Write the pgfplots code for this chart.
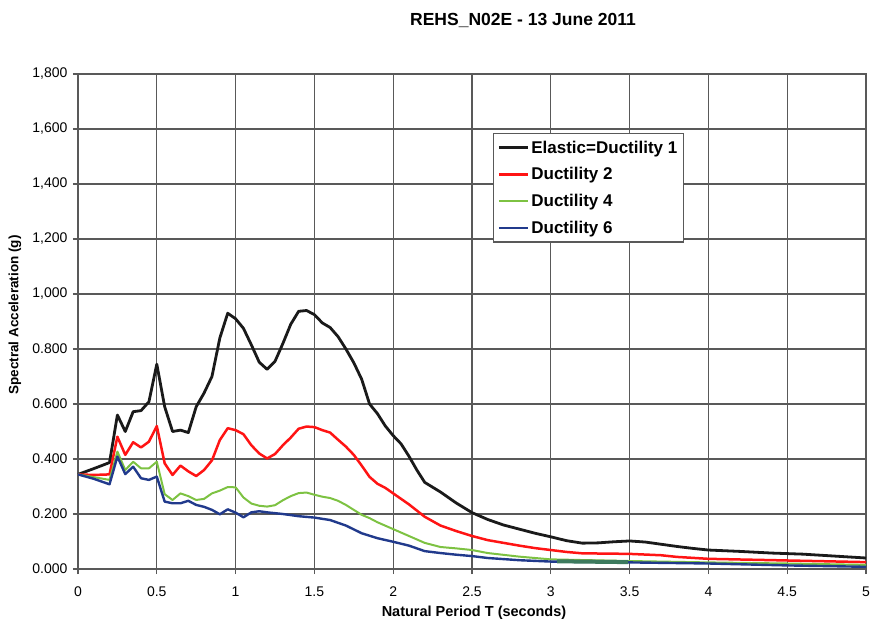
\documentclass[border=0pt]{standalone}
\usepackage{fontspec}
\setmainfont{Liberation Sans}
\usepackage{pgfplots}
\pgfplotsset{compat=1.18}

\definecolor{curveblack}{HTML}{1A1A1A}
\definecolor{curvered}{HTML}{FF1414}
\definecolor{curvegreen}{HTML}{7DC242}
\definecolor{curveblue}{HTML}{213A8C}
\definecolor{scanbar}{HTML}{3D7A5E}
\definecolor{gridgray}{HTML}{595959}

\begin{document}
\begin{tikzpicture}
% frame of the whole picture, in pt measured from the axis corner
\path[use as bounding box] (-78pt,-53pt) rectangle (795pt,569pt);
\begin{axis}[
  at={(0,0)}, anchor=origin,
  scale only axis, width=788pt, height=495pt,
  xmin=0, xmax=5, ymin=0, ymax=1.8,
  xtick={0,0.5,...,5}, ytick={0,0.2,...,1.8},
  xticklabels={0,0.5,1,1.5,2,2.5,3,3.5,4,4.5,5},
  yticklabels={0.000,0.200,0.400,0.600,0.800,{1,000},{1,200},{1,400},{1,600},{1,800}},
  /pgf/number format/assume math mode=true,
  grid=major, grid style={draw=gridgray, line width=1.2pt},
  axis line style={draw=gridgray, line width=1.2pt},
  tick style={draw=gridgray, line width=1.2pt},
  tick align=outside, major tick length=5pt,
  xtick pos=bottom, ytick pos=left,
  tick label style={font=\fontsize{14}{16}\selectfont},
  xticklabel style={yshift=-9pt},
  yticklabel style={xshift=-2pt},
  legend style={at={(axis cs:2.633,1.585)}, anchor=north west,
    draw=gridgray, line width=1.2pt, fill=white,
    font=\bfseries\fontsize{17}{20}\selectfont,
    row sep=9pt, inner xsep=4pt, inner ysep=5pt},
  legend cell align=left,
  legend image code/.code={\draw[#1] (0pt,0pt) -- (29pt,0pt);},
  clip=false
]
\addplot[curveblack, line width=2.8pt, line join=round] coordinates {
(0,0.344) (0.1,0.365) (0.2,0.387) (0.25,0.56) (0.3,0.50) (0.35,0.572) (0.4,0.576)
(0.45,0.608) (0.5,0.745) (0.55,0.59) (0.6,0.50) (0.65,0.505) (0.7,0.496) (0.75,0.59)
(0.8,0.64) (0.85,0.70) (0.9,0.84) (0.95,0.93) (1.0,0.91) (1.05,0.875) (1.1,0.815)
(1.15,0.752) (1.2,0.726) (1.25,0.755) (1.3,0.82) (1.35,0.89) (1.4,0.937) (1.45,0.94)
(1.5,0.925) (1.55,0.895) (1.6,0.878) (1.65,0.845) (1.7,0.80) (1.75,0.75) (1.8,0.69)
(1.85,0.60) (1.9,0.565) (1.95,0.52) (2.0,0.485) (2.05,0.455) (2.1,0.41) (2.15,0.36)
(2.2,0.315) (2.3,0.28) (2.4,0.24) (2.5,0.205) (2.6,0.18) (2.7,0.16) (2.8,0.145)
(2.9,0.13) (3.0,0.117) (3.1,0.103) (3.2,0.094) (3.3,0.095) (3.4,0.099) (3.5,0.102)
(3.6,0.098) (3.7,0.09) (3.8,0.082) (3.9,0.075) (4.0,0.069) (4.2,0.064) (4.4,0.058)
(4.6,0.054) (4.8,0.047) (5.0,0.04)};
\addlegendentry{Elastic=Ductility 1}
\addplot[curvered, line width=2.5pt, line join=round] coordinates {
(0,0.344) (0.1,0.342) (0.2,0.344) (0.25,0.481) (0.3,0.415) (0.35,0.461) (0.4,0.442)
(0.45,0.463) (0.5,0.52) (0.55,0.384) (0.6,0.342) (0.65,0.376) (0.7,0.355) (0.75,0.338)
(0.8,0.36) (0.85,0.395) (0.9,0.469) (0.95,0.512) (1.0,0.505) (1.05,0.49) (1.1,0.45)
(1.15,0.42) (1.2,0.402) (1.25,0.418) (1.3,0.45) (1.35,0.478) (1.4,0.51) (1.45,0.518)
(1.5,0.516) (1.55,0.505) (1.6,0.496) (1.65,0.47) (1.7,0.445) (1.75,0.415) (1.8,0.376)
(1.85,0.335) (1.9,0.31) (1.95,0.295) (2.0,0.275) (2.1,0.235) (2.2,0.19) (2.3,0.158)
(2.4,0.138) (2.5,0.12) (2.6,0.105) (2.7,0.095) (2.8,0.085) (2.9,0.076) (3.0,0.069)
(3.1,0.062) (3.2,0.057) (3.5,0.055) (3.7,0.05) (3.8,0.044) (4.0,0.037) (4.5,0.031)
(5.0,0.025)};
\addlegendentry{Ductility 2}
\addplot[curvegreen, line width=2pt, line join=round] coordinates {
(0,0.344) (0.1,0.334) (0.2,0.324) (0.25,0.427) (0.3,0.36) (0.35,0.39) (0.4,0.366)
(0.45,0.366) (0.5,0.39) (0.55,0.272) (0.6,0.251) (0.65,0.275) (0.7,0.265) (0.75,0.251)
(0.8,0.255) (0.85,0.275) (0.9,0.285) (0.95,0.298) (1.0,0.297) (1.05,0.26) (1.1,0.238)
(1.15,0.23) (1.2,0.227) (1.25,0.232) (1.3,0.25) (1.35,0.265) (1.4,0.276) (1.45,0.278)
(1.5,0.27) (1.55,0.263) (1.6,0.258) (1.65,0.248) (1.7,0.233) (1.75,0.215) (1.8,0.197)
(1.85,0.185) (1.9,0.17) (2.0,0.145) (2.1,0.12) (2.2,0.095) (2.3,0.08) (2.4,0.075)
(2.5,0.069) (2.6,0.058) (2.8,0.045) (3.0,0.035) (3.5,0.029) (4.0,0.024) (4.5,0.02)
(5.0,0.015)};
\addlegendentry{Ductility 4}
\addplot[curveblue, line width=2.4pt, line join=round] coordinates {
(0,0.344) (0.1,0.328) (0.2,0.308) (0.25,0.409) (0.3,0.345) (0.35,0.372) (0.4,0.33)
(0.45,0.324) (0.5,0.336) (0.55,0.245) (0.6,0.239) (0.65,0.239) (0.7,0.248) (0.75,0.233)
(0.8,0.226) (0.85,0.215) (0.9,0.199) (0.95,0.217) (1.0,0.205) (1.05,0.188) (1.1,0.206)
(1.15,0.21) (1.2,0.206) (1.3,0.2) (1.4,0.192) (1.5,0.187) (1.6,0.178) (1.7,0.158)
(1.8,0.13) (1.9,0.112) (2.0,0.099) (2.1,0.085) (2.2,0.065) (2.3,0.058) (2.4,0.052)
(2.5,0.047) (2.6,0.04) (2.8,0.032) (3.0,0.027) (3.5,0.024) (4.0,0.02) (4.5,0.013)
(5.0,0.008)};
\addlegendentry{Ductility 6}
% dark smear of the scan between 3 and 3.5 s
\addplot[scanbar, line width=4pt, forget plot] coordinates {(3.04,0.028) (3.49,0.025)};
\end{axis}
\node[font=\bfseries\fontsize{17.5}{20}\selectfont] at (445pt,549pt) {REHS\_N02E - 13 June 2011};
\node[font=\bfseries\fontsize{13.5}{16}\selectfont, rotate=90] at (-63pt,254pt) {Spectral Acceleration (g)};
\node[font=\bfseries\fontsize{14.5}{17}\selectfont] at (396pt,-44pt) {Natural Period T (seconds)};
\end{tikzpicture}
\end{document}
